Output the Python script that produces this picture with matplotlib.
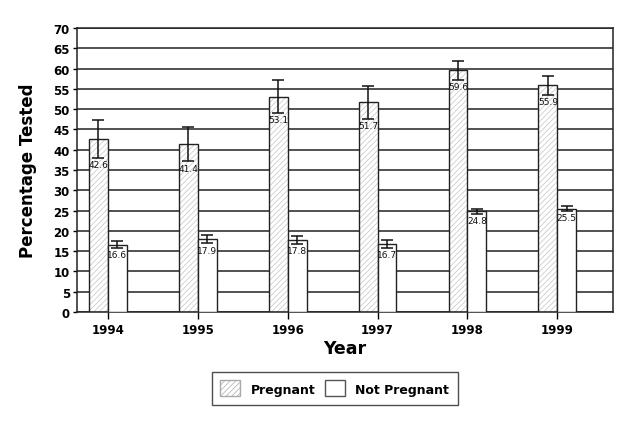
import matplotlib
matplotlib.use("Agg")
import matplotlib.pyplot as plt
import numpy as np
from matplotlib.patches import Patch

years = ["1994", "1995", "1996", "1997", "1998", "1999"]
pregnant = [42.6, 41.4, 53.1, 51.7, 59.6, 55.9]
pregnant_err = [4.7, 4.3, 4.0, 4.1, 2.3, 2.3]
not_pregnant = [16.6, 17.9, 17.8, 16.7, 24.8, 25.5]
not_pregnant_err = [0.9, 1.0, 1.0, 1.0, 0.6, 0.7]

plt.rcParams['font.family'] = ['DejaVu Sans']
plt.rcParams['hatch.linewidth'] = 0.5

fig = plt.figure(figsize=(6.4, 4.27), dpi=100)
ax = fig.add_axes([0.120, 0.267, 0.838, 0.665])

x = np.arange(len(years))
w = 0.21

# gridlines
ax.set_axisbelow(True)
ax.yaxis.grid(True, color='#222222', linewidth=1.1)

def draw_bars(xpos, vals, errs, hatched):
    if hatched:
        ax.bar(xpos, vals, w, color='white', edgecolor='#c4c4c4', hatch='//////', linewidth=0, zorder=2)
        ax.bar(xpos, vals, w, fill=False, edgecolor='#222222', linewidth=1.0, zorder=3)
    else:
        ax.bar(xpos, vals, w, color='white', edgecolor='#222222', linewidth=1.0, zorder=3)
    ax.errorbar(xpos, vals, yerr=errs, fmt='none', ecolor='#111111', elinewidth=1.1,
                capsize=4.5, capthick=1.1, zorder=4)
    for xi, v, e in zip(xpos, vals, errs):
        ax.annotate(f"{v:.1f}", (xi, v - e), xytext=(0, -1.5), textcoords='offset points',
                    ha='center', va='top', fontsize=6.5, color='#111111', zorder=5)

draw_bars(x - w / 2, pregnant, pregnant_err, True)
draw_bars(x + w / 2, not_pregnant, not_pregnant_err, False)

ax.set_xlim(-0.345, 5.62)
ax.set_ylim(0, 70)
ax.set_yticks(np.arange(0, 71, 5))
ax.set_yticklabels([str(v) for v in range(0, 71, 5)], fontsize=8.5, fontweight='bold')
ax.set_xticks(x)
ax.set_xticklabels(years, fontsize=8.5, fontweight='bold')
ax.tick_params(axis='x', direction='out', length=5, width=1, pad=3)
ax.tick_params(axis='y', direction='out', length=3, width=1, pad=2)
for s in ax.spines.values():
    s.set_linewidth(1.1)
    s.set_color('#222222')

ax.set_xlabel("Year", fontsize=12.5, fontweight='bold', labelpad=2)
ax.set_ylabel("Percentage Tested", fontsize=12, fontweight='bold', labelpad=12)

handles = [Patch(facecolor='white', edgecolor='#555555', hatch='//////', label='Pregnant'),
           Patch(facecolor='white', edgecolor='#555555', label='Not Pregnant')]
leg = fig.legend(handles=handles, loc='center', bbox_to_anchor=(0.523, 0.088), ncol=2,
                 prop={'weight': 'bold', 'size': 9}, frameon=True, fancybox=False,
                 edgecolor='#222222', handlelength=1.6, handleheight=1.6, columnspacing=0.8,
                 handletextpad=0.8, borderpad=0.7)
leg.get_frame().set_linewidth(1.0)
# lighten legend hatch
for p in leg.get_patches():
    if p.get_hatch():
        p.set_edgecolor('#aaaaaa')

fig.savefig("out.png", dpi=100)
